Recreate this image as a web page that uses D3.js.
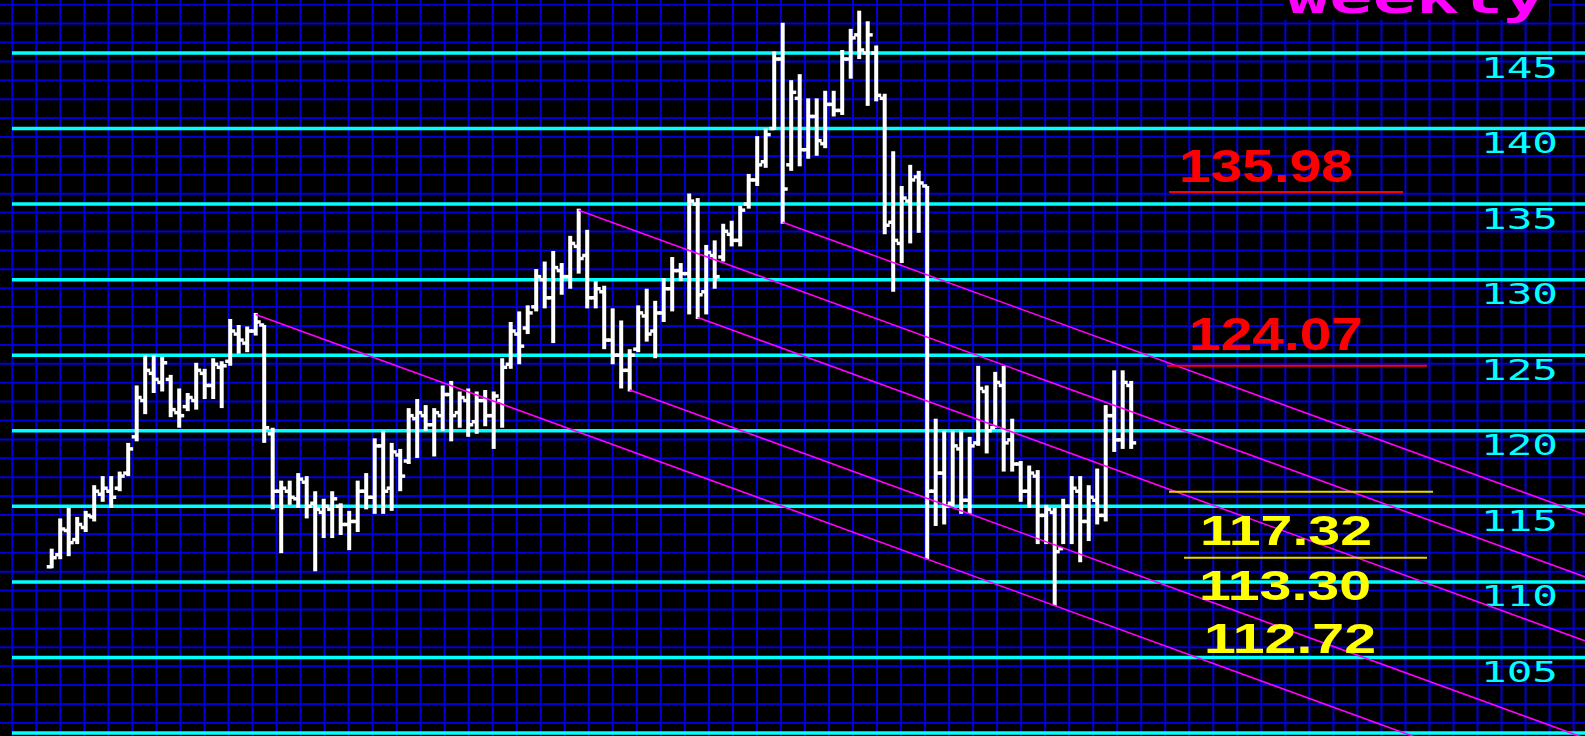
<!DOCTYPE html>
<html><head><meta charset="utf-8">
<script src="https://cdn.jsdelivr.net/npm/d3@7"></script>
<style>html,body{margin:0;padding:0;background:#000;overflow:hidden}</style>
</head><body>
<svg id="c" width="1585" height="736"></svg>
<script>
// ---- data ----
const highs = [112.1,114.1,114.8,114.2,114.6,116.3,116.9,116.9,117.2,119.1,122.9,124.9,124.9,124.8,123.6,122.7,122.4,124.4,124.0,124.7,
124.5,127.3,126.9,126.8,127.7,126.9,120.1,116.6,116.6,117.1,116.9,115.9,115.4,115.9,115.1,114.6,116.6,117.1,119.4,119.9,
119.1,118.7,121.4,122.0,121.6,121.4,122.9,123.2,122.5,122.7,122.5,122.6,122.5,124.7,127.1,127.8,128.2,130.6,131.1,131.8,
131.0,132.8,134.6,133.2,129.8,129.5,128.0,127.2,125.3,128.2,129.3,128.5,130.0,131.4,131.0,135.6,135.3,132.2,132.5,133.6,
133.8,134.8,136.9,139.4,139.9,145.0,146.9,143.1,143.5,141.9,141.9,142.4,142.4,145.1,146.5,147.7,147.0,145.4,142.2,138.4,
136.1,137.5,137.1,136.1,120.7,119.9,119.9,119.9,119.5,124.2,122.9,123.8,124.2,120.7,117.9,117.6,117.3,115.0,114.8,115.4,
116.9,116.9,116.3,117.4,121.6,123.9,123.9,123.2];
const lows = [111.0,111.6,111.8,112.6,113.4,114.1,115.4,115.0,116.1,117.1,119.4,121.2,122.6,122.7,121.0,120.3,121.4,121.5,122.2,122.2,
121.6,124.4,125.2,125.3,126.4,119.3,114.9,112.0,115.2,115.0,114.3,110.8,113.0,113.0,113.2,112.2,113.4,114.9,114.6,114.6,
114.8,116.1,117.9,118.3,120.1,118.4,120.1,119.4,120.3,119.7,119.9,120.4,118.9,120.3,124.2,124.5,126.5,128.0,128.2,125.9,
129.1,129.5,130.5,128.2,128.2,125.5,124.5,122.9,122.7,125.3,126.0,124.9,127.3,128.0,130.0,127.8,127.5,127.8,129.5,131.3,
132.3,132.3,134.8,136.3,137.5,140.0,133.8,137.3,137.6,138.1,138.3,138.8,140.9,141.0,143.4,144.7,141.6,141.9,133.1,129.3,
131.2,132.5,133.2,111.6,113.8,113.9,115.1,114.6,114.6,119.1,118.6,120.3,117.4,117.4,115.4,115.0,112.6,112.6,108.5,112.6,
112.6,111.4,112.8,113.9,114.1,118.7,118.9,118.9];
const opens = [111.0,111.8,113.4,112.8,113.6,114.3,115.8,116.0,116.2,117.2,119.6,122.0,123.8,123.2,123.4,121.2,121.6,122.0,123.8,123.0,
124.2,124.6,126.4,125.8,126.6,127.0,119.8,116.0,116.0,115.5,116.6,115.2,114.6,114.8,115.0,113.8,114.0,116.0,115.6,119.0,
116.2,118.4,118.0,120.8,121.0,120.4,121.0,122.4,121.2,122.0,120.6,122.0,121.0,122.0,124.4,126.4,126.8,128.2,130.0,128.8,
130.6,130.2,132.2,131.6,128.8,129.2,126.0,125.0,124.0,125.4,127.6,126.6,127.8,129.4,130.6,130.4,135.0,129.2,131.6,131.5,
133.0,132.6,135.0,136.6,137.8,140.0,144.6,137.6,142.0,138.6,140.8,139.0,141.6,141.2,144.6,146.2,145.0,145.0,142.0,133.8,
132.4,135.2,136.8,136.2,116.0,117.2,115.2,118.8,115.4,119.2,122.6,120.2,123.0,119.4,117.8,116.0,117.0,114.4,114.6,112.2,
115.0,116.0,114.0,115.4,114.4,121.0,119.4,123.0];
const closes = [111.6,113.5,112.6,113.8,114.4,116.0,116.2,115.6,117.0,118.8,122.2,124.0,123.4,124.5,121.4,121.0,122.2,124.0,123.0,124.4,
124.3,126.6,126.0,126.6,127.2,120.2,116.0,116.2,115.6,116.8,115.0,114.8,115.0,115.5,113.8,114.0,116.0,115.6,119.0,116.0,
118.6,117.0,121.0,121.2,120.4,121.2,122.4,121.0,122.2,120.4,122.0,121.0,122.3,124.2,126.6,125.6,127.8,130.2,128.8,130.8,
130.2,132.4,131.4,128.8,129.4,126.0,125.0,124.0,125.0,127.8,126.4,127.8,129.4,130.6,130.4,135.2,129.0,131.8,130.2,133.2,
132.6,134.6,136.6,137.6,139.6,144.6,136.0,142.4,138.6,140.8,139.2,141.6,141.2,144.6,146.0,145.2,146.2,142.2,133.6,132.6,
135.4,136.6,136.4,116.0,117.2,115.0,119.0,115.4,119.0,122.8,120.0,123.2,119.2,117.8,116.0,117.2,114.4,114.8,112.0,115.0,
116.2,114.0,115.6,114.4,121.0,119.4,123.2,119.2];

// cyan price levels / axis tick labels
const priceLevels = [100,105,110,115,120,125,130,135,140,145];
const tickLabels = ["105","110","115","120","125","130","135","140","145"];

// channel lines: start bar, start price, slope (price per bar)
const channelStartBar   = [24, 62, 68, 76, 86];
const channelStartPrice = [127.7, 134.6, 122.7, 127.5, 133.8];
const channelSlope      = [-0.205, -0.205, -0.205, -0.205, -0.205];

// annotations
const redLabels = ["135.98","124.07"];
const redLineLevels = [135.80, 124.31];
const yellowLabels = ["117.32","113.30","112.72"];
const yellowLineLevels = [115.97, 111.60];
const title = "weekly";

// ---- drawing ----
const W = 1585, H = 736;
const svg = d3.select("#c");
svg.append("rect").attr("width",W).attr("height",H).attr("fill","#000");

const x = d3.scaleLinear().domain([0, highs.length-1]).range([51.7, 1131.2]);
const y = d3.scaleLinear().domain([100,145]).range([733,53]);

// blue grid
const g = svg.append("g");
g.selectAll("line.v").data(d3.range(12.3, W, 24.02)).join("line")
  .attr("x1",d=>d).attr("x2",d=>d).attr("y1",0).attr("y2",H)
  .attr("stroke","#0000d8").attr("stroke-width",2);
g.selectAll("line.h").data(d3.range(4.7, H, 18.9)).join("line")
  .attr("x1",0).attr("x2",W).attr("y1",d=>d).attr("y2",d=>d)
  .attr("stroke","#0000d8").attr("stroke-width",2);

// cyan levels
svg.append("g").selectAll("line").data(priceLevels).join("line")
  .attr("x1",12).attr("x2",W).attr("y1",d=>y(d)).attr("y2",d=>y(d))
  .attr("stroke","#00ffff").attr("stroke-width",3.5);

// axis labels (custom axis)
const axis = d3.axisRight(y).tickValues(tickLabels.map(Number)).tickFormat(d=>String(d)).tickSize(0);
const ag = svg.append("g").attr("transform","translate(1481,0)").call(axis);
ag.select(".domain").remove();
ag.selectAll("text")
  .attr("x",0).attr("dy",null).attr("dx",null)
  .attr("transform",null)
  .attr("y",24)
  .attr("text-anchor","start")
  .attr("fill","#00ffff")
  .attr("font-family","'DejaVu Sans Mono', monospace")
  .attr("font-size",29)
  .attr("textLength",77).attr("lengthAdjust","spacingAndGlyphs")
  .attr("dominant-baseline","auto");

// bars
const idx = d3.range(highs.length);
const bg = svg.append("g").attr("stroke","#fff").attr("stroke-linecap","butt");
bg.selectAll("line.hl").data(idx).join("line")
  .attr("x1",i=>x(i)).attr("x2",i=>x(i))
  .attr("y1",i=>y(highs[i])-1.5).attr("y2",i=>y(lows[i])+1.5)
  .attr("stroke-width",4);
bg.selectAll("line.o").data(idx).join("line")
  .attr("x1",i=>x(i)-5).attr("x2",i=>x(i))
  .attr("y1",i=>y(opens[i])).attr("y2",i=>y(opens[i]))
  .attr("stroke-width",3.5);
bg.selectAll("line.c").data(idx).join("line")
  .attr("x1",i=>x(i)).attr("x2",i=>x(i)+5)
  .attr("y1",i=>y(closes[i])).attr("y2",i=>y(closes[i]))
  .attr("stroke-width",3.5);

// channel lines
const endBar = x.invert(W+5);
svg.append("g").selectAll("line").data(d3.range(channelStartBar.length)).join("line")
  .attr("x1",k=>x(channelStartBar[k])).attr("y1",k=>y(channelStartPrice[k]))
  .attr("x2",x(endBar))
  .attr("y2",k=>y(channelStartPrice[k] + channelSlope[k]*(endBar-channelStartBar[k])))
  .attr("stroke","#ff00ff").attr("stroke-width",1.6);

// red annotations
const redLineX = [[1169,1403],[1167,1427]];
const redText = [{x:1179,b:182},{x:1189,b:350}];
redLineLevels.forEach((lv,k)=>{
  svg.append("line").attr("x1",redLineX[k][0]).attr("x2",redLineX[k][1])
    .attr("y1",y(lv)).attr("y2",y(lv)).attr("stroke","#ff0000").attr("stroke-width",2);
});
redLabels.forEach((t,k)=>{
  svg.append("text").attr("x",redText[k].x).attr("y",redText[k].b).text(t)
    .attr("fill","#ff0000").attr("font-family","'Liberation Sans', Arial, sans-serif")
    .attr("font-weight","bold").attr("font-size",46)
    .attr("textLength",174).attr("lengthAdjust","spacingAndGlyphs");
});

// yellow annotations
const yLineX = [[1169,1433],[1184,1427]];
yellowLineLevels.forEach((lv,k)=>{
  svg.append("line").attr("x1",yLineX[k][0]).attr("x2",yLineX[k][1])
    .attr("y1",y(lv)).attr("y2",y(lv)).attr("stroke","#e8d800").attr("stroke-width",2);
});
const yText = [{x:1200,b:545},{x:1199,b:600},{x:1204,b:653}];
yellowLabels.forEach((t,k)=>{
  svg.append("text").attr("x",yText[k].x).attr("y",yText[k].b).text(t)
    .attr("fill","#ffff00").attr("font-family","'Liberation Sans', Arial, sans-serif")
    .attr("font-weight","bold").attr("font-size",43)
    .attr("textLength",172).attr("lengthAdjust","spacingAndGlyphs");
});

// title (cut at top, as in the original)
svg.append("rect").attr("x",1283).attr("y",0).attr("width",266).attr("height",20).attr("fill","#000");
svg.append("text").attr("x",1286).attr("y",13).text(title)
  .attr("fill","#ff00ff").attr("font-family","'DejaVu Sans Mono', monospace")
  .attr("font-weight","bold").attr("font-size",46)
  .attr("textLength",260).attr("lengthAdjust","spacingAndGlyphs");
</script>
</body></html>
